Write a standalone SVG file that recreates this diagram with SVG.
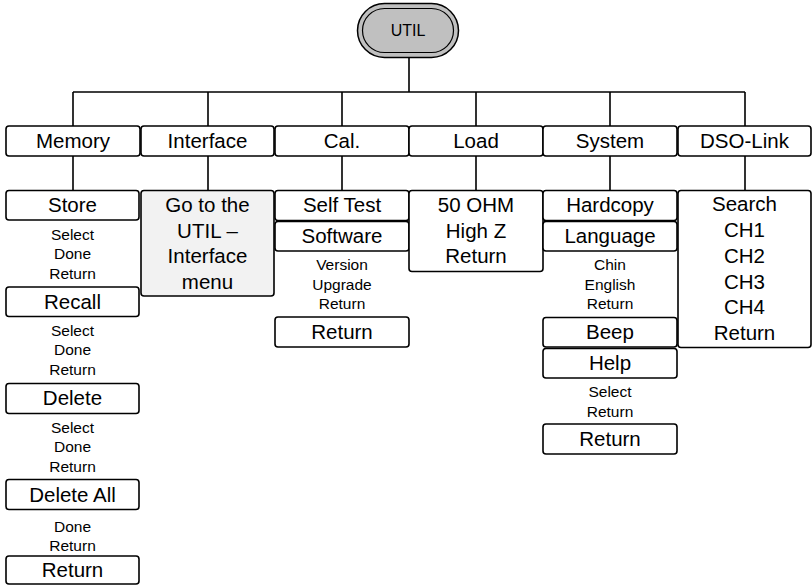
<svg xmlns="http://www.w3.org/2000/svg" width="812" height="585" viewBox="0 0 812 585">
<style>
.b{fill:#fff;stroke:#000;stroke-width:1.6}
.g{fill:#f2f2f2;stroke:#000;stroke-width:1.6}
.t{font-family:"Liberation Sans",Arial,sans-serif;font-size:20.5px;text-anchor:middle;fill:#000}
.s{font-family:"Liberation Sans",Arial,sans-serif;font-size:15.5px;text-anchor:middle;fill:#000}
.c{stroke:#000;stroke-width:1.6;fill:none}
</style>
<rect width="812" height="585" fill="#fff"/>
<g id="connectors">
<path class="c" d="M409,57V92M73,92H745M73,92V126M208,92V126M342,92V126M476,92V126M610,92V126M745,92V126M73,156V190M208,156V190M342,156V190M476,156V190M610,156V190M745,156V190"/>
</g>
<g id="util">
<rect x="357.5" y="3.5" width="101" height="54" rx="27" fill="#c0c0c0" stroke="#000" stroke-width="1.5"/>
<rect x="362.5" y="8.5" width="91" height="44" rx="22" fill="none" stroke="#000" stroke-width="1.2"/>
<text class="t" x="408" y="36" style="font-size:16px">UTIL</text>
</g>
<g id="memory"><rect class="b" x="6" y="126" width="134" height="30" rx="3"/><text class="t" x="73" y="147.5">Memory</text></g>
<g id="interface"><rect class="b" x="141" y="126" width="133" height="30" rx="3"/><text class="t" x="207.5" y="147.5">Interface</text></g>
<g id="cal"><rect class="b" x="275" y="126" width="134" height="30" rx="3"/><text class="t" x="342" y="147.5">Cal.</text></g>
<g id="load"><rect class="b" x="409" y="126" width="134" height="30" rx="3"/><text class="t" x="476" y="147.5">Load</text></g>
<g id="system"><rect class="b" x="543" y="126" width="134" height="30" rx="3"/><text class="t" x="610" y="147.5">System</text></g>
<g id="dsolink"><rect class="b" x="678" y="126" width="133" height="30" rx="3"/><text class="t" x="744.5" y="147.5">DSO-Link</text></g>

<g id="store"><rect class="b" x="6" y="190.5" width="133" height="29.5" rx="3"/><text class="t" x="72.5" y="212">Store</text>
<text class="s" x="72.5" y="239.5">Select</text><text class="s" x="72.5" y="259">Done</text><text class="s" x="72.5" y="278.5">Return</text></g>
<g id="recall"><rect class="b" x="6" y="287" width="133" height="29.5" rx="3"/><text class="t" x="72.5" y="308.5">Recall</text>
<text class="s" x="72.5" y="335.5">Select</text><text class="s" x="72.5" y="355">Done</text><text class="s" x="72.5" y="374.5">Return</text></g>
<g id="delete"><rect class="b" x="6" y="383.5" width="133" height="30" rx="3"/><text class="t" x="72.5" y="405">Delete</text>
<text class="s" x="72.5" y="432.5">Select</text><text class="s" x="72.5" y="452">Done</text><text class="s" x="72.5" y="471.5">Return</text></g>
<g id="deleteall"><rect class="b" x="6" y="479.5" width="133" height="30" rx="3"/><text class="t" x="72.5" y="501.5">Delete All</text>
<text class="s" x="72.5" y="531.5">Done</text><text class="s" x="72.5" y="551">Return</text></g>
<g id="memreturn"><rect class="b" x="6" y="556" width="133" height="28" rx="3"/><text class="t" x="72.5" y="577">Return</text></g>

<g id="gotoutil"><rect class="g" x="141" y="190.5" width="133" height="105.5" rx="3"/>
<text class="t" x="207.5" y="212">Go to the</text><text class="t" x="207.5" y="238">UTIL –</text><text class="t" x="207.5" y="263">Interface</text><text class="t" x="207.5" y="288.5">menu</text></g>

<g id="selftest"><rect class="b" x="275" y="190.5" width="134" height="30" rx="3"/><text class="t" x="342" y="212">Self Test</text></g>
<g id="software"><rect class="b" x="275" y="221.5" width="134" height="29.5" rx="3"/><text class="t" x="342" y="243">Software</text>
<text class="s" x="342" y="270">Version</text><text class="s" x="342" y="290">Upgrade</text><text class="s" x="342" y="309">Return</text></g>
<g id="calreturn"><rect class="b" x="275" y="317" width="134" height="30" rx="3"/><text class="t" x="342" y="339">Return</text></g>

<g id="loadopts"><rect class="b" x="409" y="190.5" width="134" height="81" rx="3"/>
<text class="t" x="476" y="212">50 OHM</text><text class="t" x="476" y="238">High Z</text><text class="t" x="476" y="263">Return</text></g>

<g id="hardcopy"><rect class="b" x="543" y="190.5" width="134" height="30" rx="3"/><text class="t" x="610" y="212">Hardcopy</text></g>
<g id="language"><rect class="b" x="543" y="221.5" width="134" height="29.5" rx="3"/><text class="t" x="610" y="243">Language</text>
<text class="s" x="610" y="270">Chin</text><text class="s" x="610" y="290">English</text><text class="s" x="610" y="309">Return</text></g>
<g id="beep"><rect class="b" x="543" y="317.5" width="134" height="29.5" rx="3"/><text class="t" x="610" y="339">Beep</text></g>
<g id="help"><rect class="b" x="543" y="348.5" width="134" height="29.5" rx="3"/><text class="t" x="610" y="370">Help</text>
<text class="s" x="610" y="397">Select</text><text class="s" x="610" y="416.5">Return</text></g>
<g id="sysreturn"><rect class="b" x="543" y="424" width="134" height="30" rx="3"/><text class="t" x="610" y="446">Return</text></g>

<g id="dsoopts"><rect class="b" x="678" y="190.5" width="133" height="157" rx="3"/>
<text class="t" x="744.5" y="211">Search</text><text class="t" x="744.5" y="237">CH1</text><text class="t" x="744.5" y="263">CH2</text><text class="t" x="744.5" y="289">CH3</text><text class="t" x="744.5" y="314">CH4</text><text class="t" x="744.5" y="340">Return</text></g>
</svg>
